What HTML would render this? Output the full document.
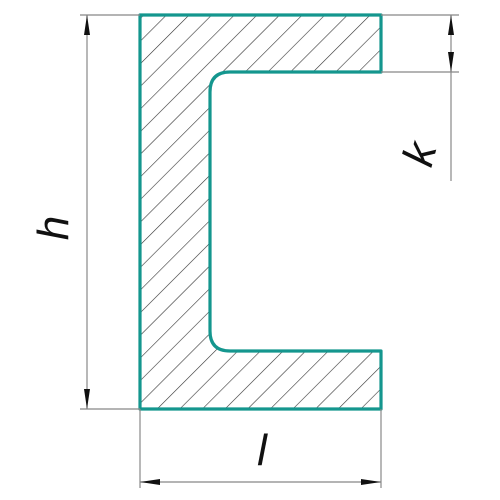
<!DOCTYPE html>
<html><head><meta charset="utf-8"><style>html,body{margin:0;padding:0;background:#fff}svg{display:block}</style></head>
<body>
<svg width="500" height="500" viewBox="0 0 500 500" xmlns="http://www.w3.org/2000/svg">
<defs>
<pattern id="hatch" patternUnits="userSpaceOnUse" width="16" height="16" patternTransform="rotate(45)">
<line x1="0" y1="0" x2="0" y2="16" stroke="#333" stroke-width="1.2"/>
</pattern>
<marker id="arr" viewBox="0 0 20 8" refX="20" refY="4" markerWidth="20" markerHeight="8" markerUnits="userSpaceOnUse" orient="auto-start-reverse"><path d="M0,1 L20,4 L0,7 Z" fill="#111"/></marker>
</defs>
<g>
<path d="M140,15 H381 V72 H230 Q210,72 210,92 V331 Q210,351 230,351 H381 V409 H140 Z" fill="url(#hatch)" stroke="#14968e" stroke-width="3.2" stroke-linejoin="round"/>
</g>
<g stroke="#888" stroke-width="1.2">
<line x1="80" y1="15" x2="140" y2="15"/>
<line x1="80" y1="409" x2="140" y2="409"/>
<line x1="381" y1="15" x2="459" y2="15"/>
<line x1="381" y1="72" x2="459" y2="72"/>
<line x1="140" y1="409" x2="140" y2="488"/>
<line x1="381" y1="409" x2="381" y2="488"/>
</g>
<g stroke="#888" stroke-width="1.2">
<line x1="87" y1="15" x2="87" y2="409" marker-start="url(#arr)" marker-end="url(#arr)"/>
<line x1="451" y1="15" x2="451" y2="72" marker-start="url(#arr)" marker-end="url(#arr)"/>
<line x1="451" y1="72" x2="451" y2="181"/>
<line x1="140" y1="482" x2="381" y2="482" marker-start="url(#arr)" marker-end="url(#arr)"/>
</g>
<g font-family="Liberation Sans, sans-serif" font-style="italic" font-size="44" fill="#111">
<text transform="translate(68,228) rotate(-90)" text-anchor="middle">h</text>
<text transform="translate(434,158) rotate(-75)" text-anchor="middle">k</text>
<text x="262" y="465" text-anchor="middle">l</text>
</g>
</svg>
</body></html>
